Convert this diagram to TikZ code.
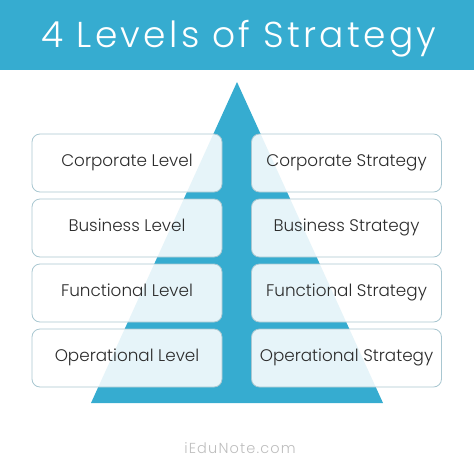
\documentclass[tikz,border=0pt]{standalone}
\usepackage{fontspec}
\setmainfont{Poppins}[UprightFont=* Light]
\usetikzlibrary{positioning}

\definecolor{stratblue}{HTML}{36ACD0}
\definecolor{boxline}{HTML}{A9C7D1}
\definecolor{boxtext}{HTML}{2B2B2B}
\definecolor{notegray}{HTML}{BDBDBD}

\begin{document}
\begin{tikzpicture}[x=1pt,y=1pt,node distance=65pt and 219.5pt,on grid,
    level/.style={draw=boxline,line width=0.8pt,fill=white,fill opacity=0.88,text opacity=1,
      rounded corners=8pt,minimum width=190pt,minimum height=58pt,inner sep=0pt,
      text height=0.75em,text depth=0pt,
      text=boxtext,font=\fontsize{16.8}{20}\selectfont}]
  \useasboundingbox (0,0) rectangle (474,-458);
  % header band
  \fill[stratblue] (0,0) rectangle (474,-70);
  \node[anchor=base,text=white,font=\fontsize{36}{40}\selectfont\addfontfeature{LetterSpace=9}] (title) at (239,-47) {4 Levels of Strategy};
  % pyramid
  \fill[stratblue] (237,-82) -- (383,-403) -- (91,-403) -- cycle;

  \node[level] (lvl_1) at (127,-163) {Corporate Level};
  \node[level] (lvl_2) [below=of lvl_1] {Business Level};
  \node[level] (lvl_3) [below=of lvl_2] {Functional Level};
  \node[level] (lvl_4) [below=of lvl_3] {Operational Level};

  \node[level] (str_1) [right=of lvl_1] {Corporate Strategy};
  \node[level] (str_2) [right=of lvl_2] {Business Strategy};
  \node[level] (str_3) [right=of lvl_3] {Functional Strategy};
  \node[level] (str_4) [right=of lvl_4] {Operational Strategy};

  \node[text=notegray,font=\fontsize{14.5}{16}\selectfont\addfontfeature{LetterSpace=8}] (note) at (240,-448) {iEduNote.com};
\end{tikzpicture}
\end{document}
